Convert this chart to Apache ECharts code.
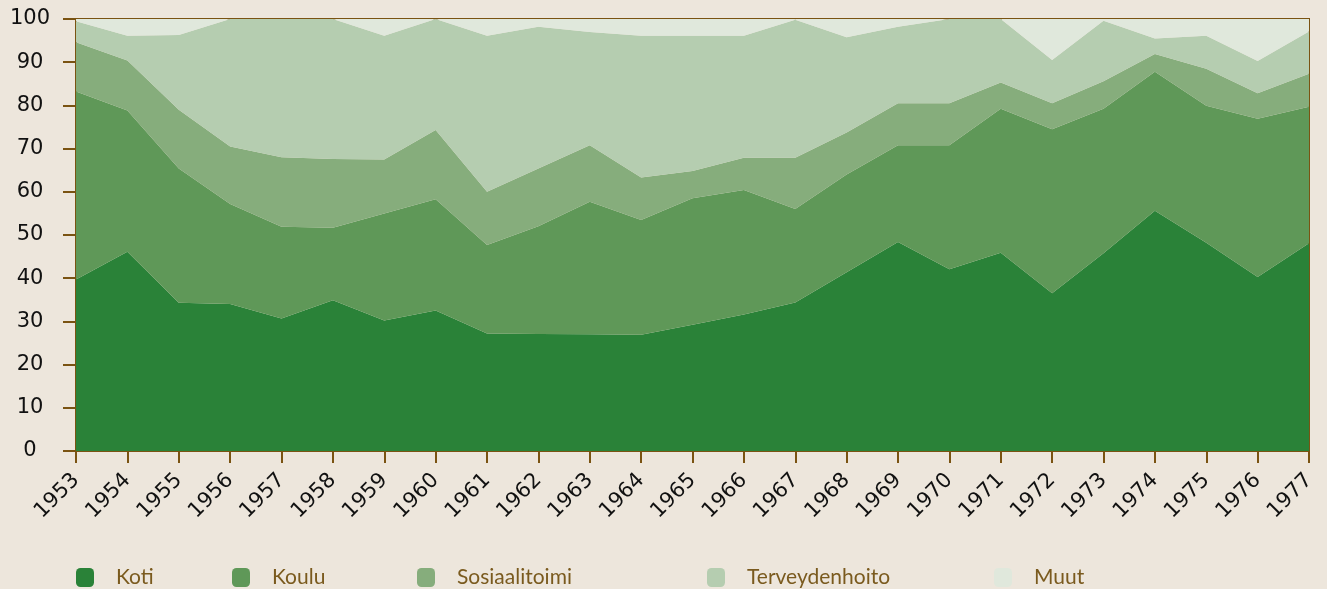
<!DOCTYPE html>
<html>
<head>
<meta charset="utf-8">
<script src="https://cdn.jsdelivr.net/npm/echarts@6/dist/echarts.min.js"></script>
<style>
html, body { margin: 0; padding: 0; background: #ede6dc; }
#chart { width: 1327px; height: 589px; }
</style>
</head>
<body>
<div id="chart"></div>
<script>
var years = ["1953", "1954", "1955", "1956", "1957", "1958", "1959", "1960", "1961", "1962", "1963", "1964",
    "1965", "1966", "1967", "1968", "1969", "1970", "1971", "1972", "1973", "1974", "1975", "1976", "1977"];

var koti = [39.7, 46.1, 34.3, 34.0, 30.7, 34.9, 30.2, 32.5, 27.2, 27.1, 27.0, 26.9,
    29.2, 31.6, 34.4, 41.4, 48.4, 42.1, 45.9, 36.5, 45.8, 55.6, 48.2, 40.3, 48.1];
var koulu = [43.5, 32.7, 31.1, 23.2, 21.2, 16.8, 24.8, 25.8, 20.5, 24.9, 30.7, 26.6,
    29.3, 28.8, 21.6, 22.6, 22.4, 28.7, 33.3, 38.0, 33.4, 32.2, 31.7, 36.6, 31.6];
var sosiaalitoimi = [11.4, 11.6, 13.6, 13.3, 16.1, 15.9, 12.5, 16.0, 12.3, 13.4, 13.1, 9.8,
    6.3, 7.5, 11.9, 9.7, 9.7, 9.7, 6.1, 6.0, 6.4, 4.1, 8.6, 5.9, 7.6];
var terveydenhoito = [4.9, 5.7, 17.3, 29.5, 32.0, 32.4, 28.6, 25.7, 36.1, 32.8, 26.2, 32.8,
    31.3, 28.2, 31.9, 22.1, 17.7, 19.5, 14.7, 10.0, 14.0, 3.6, 7.6, 7.5, 9.8];
var muut = [0.5, 3.9, 3.7, 0, 0, 0, 3.9, 0, 3.9, 1.8, 3.0, 3.9,
    3.9, 3.9, 0.2, 4.2, 1.8, 0, 0, 9.5, 0.4, 4.5, 3.9, 9.7, 2.9];

var names = ["Koti", "Koulu", "Sosiaalitoimi", "Terveydenhoito", "Muut"];
var colors = ["#2a8238", "#5f9858", "#86ad7c", "#b5cdb0", "#e0e8dc"];
var values = [koti, koulu, sosiaalitoimi, terveydenhoito, muut];
var legendLeft = [76, 232, 417, 707, 994];

var brown = "#7a5312";

var series = [];
var legends = [];
for (var i = 0; i < names.length; i++) {
    series.push({
        name: names[i],
        type: "line",
        stack: "total",
        data: values[i],
        symbol: "none",
        lineStyle: { width: 0 },
        areaStyle: { color: colors[i], opacity: 1 },
        itemStyle: { color: colors[i] },
        emphasis: { disabled: true }
    });
    // one legend per item, the gaps in the original are not even
    legends.push({
        data: [names[i]],
        left: legendLeft[i],
        top: 567,
        padding: 0,
        itemWidth: 18,
        itemHeight: 19,
        itemGap: 0,
        selectedMode: false,
        icon: "roundRect",
        textStyle: {
            color: "#7a5a1e",
            fontFamily: "Lato",
            fontSize: 21,
            padding: [0, 0, 0, 17]
        }
    });
}

var chart = echarts.init(document.getElementById("chart"));

var option = {
    backgroundColor: "#ede6dc",
    animation: false,
    grid: {
        left: 76,
        right: 18,
        top: 19,
        bottom: 138,
        show: true,
        borderColor: brown,
        borderWidth: 2,
        containLabel: false
    },
    legend: legends,
    xAxis: {
        type: "category",
        boundaryGap: false,
        data: years,
        axisLine: { lineStyle: { color: brown, width: 2 } },
        axisTick: { alignWithLabel: true, length: 12, lineStyle: { color: brown, width: 2 } },
        axisLabel: {
            rotate: 45,
            margin: 26,
            interval: 0,
            color: "#111",
            fontFamily: "DejaVu Sans",
            fontSize: 21
        },
        splitLine: { show: false }
    },
    yAxis: {
        type: "value",
        min: 0,
        max: 100,
        interval: 10,
        axisLine: { show: true, lineStyle: { color: brown, width: 2 } },
        axisTick: { show: true, length: 13, lineStyle: { color: brown, width: 2 } },
        axisLabel: {
            margin: 46,
            align: "center",
            color: "#111",
            fontFamily: "DejaVu Sans",
            fontSize: 21
        },
        splitLine: { show: false }
    },
    series: series
};

chart.setOption(option);
</script>
</body>
</html>
